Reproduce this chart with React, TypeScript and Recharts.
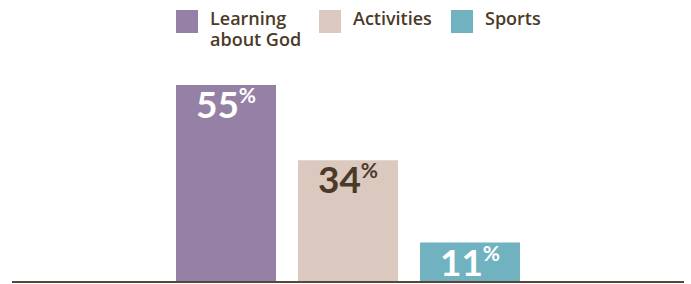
import React from "react";
import { BarChart, Bar, XAxis, YAxis, Legend, LabelList } from "recharts";

const categories = ["All"];
const seriesNames = ["Learning about God", "Activities", "Sports"];
const seriesKeys = ["learning", "activities", "sports"];
const learningValues = [55];
const activitiesValues = [34];
const sportsValues = [11];

const colors = ["#9681a6", "#dbc8be", "#71b2c1"];
const labelColors = ["#ffffff", "#4b3a28", "#ffffff"];
const legendLabels = [["Learning", "about God"], ["Activities"], ["Sports"]];

const data = categories.map((c, i) => ({
  name: c,
  learning: learningValues[i],
  activities: activitiesValues[i],
  sports: sportsValues[i],
}));

const FONT = "Lato, 'Open Sans', sans-serif";
const LEGEND_FONT = "'Open Sans', Lato, sans-serif";

const makeLabel = (color: string) => (props: any) => {
  const { x, y, width, value } = props;
  const cx = Number(x) + Number(width) / 2;
  return (
    <text x={cx} y={Number(y) + 33} textAnchor="middle" fill={color} fontFamily={FONT} fontWeight={700}>
      <tspan fontSize={37}>{value}</tspan>
      <tspan fontSize={21} dy={-15}>%</tspan>
    </text>
  );
};

const LegendContent = (props: any) => {
  const payload = props.payload || [];
  const lefts = [176, 319, 451];
  return (
    <div style={{ height: 50, position: "relative" }}>
      {payload.map((p: any) => {
        const i = seriesNames.indexOf(p.value);
        return (
          <div key={p.value} style={{ position: "absolute", left: lefts[i], top: 10, display: "flex", alignItems: "flex-start" }}>
            <div style={{ width: 22, height: 23, background: colors[i], flexShrink: 0 }} />
            <div style={{ marginLeft: 12, marginTop: -2, fontFamily: LEGEND_FONT, fontWeight: 600, fontSize: 18, lineHeight: "21px", color: "#4b3a28", whiteSpace: "nowrap" }}>
              {legendLabels[i].map((l, j) => (
                <div key={j}>{l}</div>
              ))}
            </div>
          </div>
        );
      })}
    </div>
  );
};

export default function App() {
  return (
    <div style={{ position: "absolute", left: 0, top: 0, width: 691, height: 284, background: "#fff" }}>
      <BarChart width={691} height={284} data={data} margin={{ top: 35, right: 7, bottom: 0, left: 12 }} barGap={22} barSize={100}>
        <XAxis dataKey="name" tick={false} tickLine={false} axisLine={{ stroke: "#54483c", strokeWidth: 2 }} height={2} />
        <YAxis hide domain={[0, 55]} />
        <Legend verticalAlign="top" align="left" content={<LegendContent />} wrapperStyle={{ left: 0, top: 0, width: 691 }} height={50} />
        {seriesKeys.map((k, i) => (
          <Bar key={k} dataKey={k} name={seriesNames[i]} fill={colors[i]} isAnimationActive={false}>
            <LabelList dataKey={k} content={makeLabel(labelColors[i])} />
          </Bar>
        ))}
      </BarChart>
    </div>
  );
}
